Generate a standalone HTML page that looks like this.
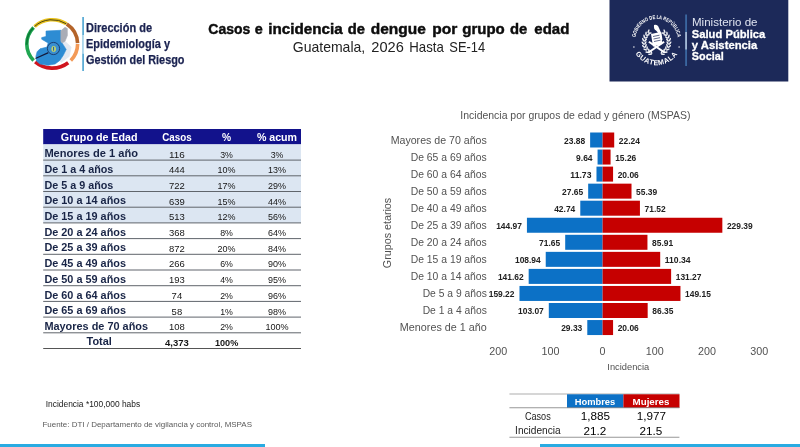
<!DOCTYPE html>
<html lang="es"><head><meta charset="utf-8"><title>Casos e incidencia de dengue por grupo de edad</title>
<style>
html,body{margin:0;padding:0;background:#fff;}
body{width:800px;height:447px;overflow:hidden;font-family:"Liberation Sans",sans-serif;}
svg{display:block;font-family:"Liberation Sans",sans-serif;}
</style></head><body>
<svg width="800" height="447" viewBox="0 0 800 447">
<rect width="800" height="447" fill="#fff"/>

<g id="logo-epi">
<path d="M34.56 26.49 A25.4 24.2 0 0 1 66.40 23.84" fill="none" stroke="#e9c21c" stroke-width="3.6" stroke-linecap="butt"/>
<path d="M34.56 26.49 A25.4 24.2 0 0 1 66.40 23.84" fill="none" stroke="#3a3414" stroke-width="0.9" stroke-linecap="butt"/>
<path d="M66.77 24.08 A25.4 24.2 0 0 1 77.58 43.06" fill="none" stroke="#b4642a" stroke-width="3.6" stroke-linecap="butt"/>
<path d="M77.60 43.90 A25.4 24.2 0 0 1 70.78 60.40" fill="none" stroke="#f39a57" stroke-width="3.6" stroke-linecap="butt"/>
<path d="M68.18 62.71 A25.4 24.2 0 0 1 35.20 61.88" fill="none" stroke="#d0141e" stroke-width="3.6" stroke-linecap="butt"/>
<path d="M33.62 60.40 A25.4 24.2 0 0 1 33.62 27.40" fill="none" stroke="#1fa651" stroke-width="3.6" stroke-linecap="butt"/>
<path d="M26.82 44.74 A25.4 24.2 0 0 1 33.03 28.02" fill="none" stroke="#0d7a36" stroke-width="1.6" stroke-linecap="butt"/>
<path d="M62.1 43.0 L65.0 41.3 L71.2 47.1 L69.3 56.4 L61.2 62.5 L59.8 60.5 L63.3 55.3 L66.2 49.4 Z" fill="#e3e9f1" stroke="#e3e9f1" stroke-width="0.6" stroke-linejoin="round" />
<path d="M46.0 31.0 L60.9 30.3 L60.9 41.3 L62.1 43.0 L66.2 49.4 L63.3 55.3 L59.8 60.5 L55.1 64.0 L48.1 65.3 L40.0 64.1 L36.5 61.1 L35.9 56.4 L37.1 51.8 L40.0 48.8 L47.0 47.1 L48.1 43.0 L41.7 39.2 L41.7 37.6 L46.0 36.4 Z" fill="#2d8cd3" stroke="#2d8cd3" stroke-width="0.6" stroke-linejoin="round" />
<path d="M60.9 30.8 L65.0 27.3 L67.3 28.5 L67.4 35.5 L65.0 41.3 L62.1 43.0 L60.9 41.3 Z" fill="#a9adb6" stroke="#a9adb6" stroke-width="0.6" stroke-linejoin="round" />
<path d="M47.9 52.9 L36.0 58.3" stroke="#14193a" stroke-width="1.2" stroke-linecap="round"/>
<circle cx="53.5" cy="48.5" r="6.1" fill="#3a8fd0" stroke="#1a3566" stroke-width="0.9"/>
<ellipse cx="53.7" cy="48.9" rx="2.3" ry="2.9" fill="#c2d46a"/>
<rect x="53.0" y="46.9" width="1.1" height="3.8" fill="#2d64a8"/>
</g>
<rect x="82.2" y="17" width="1.8" height="54" fill="#5eadd6"/>
<rect x="82.2" y="35" width="1.8" height="18.8" fill="#b9dcee"/>
<text x="86" y="32.3" font-size="12.2" font-weight="bold" fill="#1a2250" text-anchor="start" textLength="66" lengthAdjust="spacingAndGlyphs" stroke="#1a2250" stroke-width="0.25">Dirección de</text>
<text x="86" y="48.1" font-size="12.2" font-weight="bold" fill="#1a2250" text-anchor="start" textLength="84" lengthAdjust="spacingAndGlyphs" stroke="#1a2250" stroke-width="0.25">Epidemiología y</text>
<text x="86" y="63.8" font-size="12.2" font-weight="bold" fill="#1a2250" text-anchor="start" textLength="98.5" lengthAdjust="spacingAndGlyphs" stroke="#1a2250" stroke-width="0.25">Gestión del Riesgo</text>
<text y="34.2" font-size="15" font-weight="bold" fill="#0d0d0d" stroke="#0d0d0d" stroke-width="0.45"><tspan x="208.3" textLength="41.9" lengthAdjust="spacingAndGlyphs">Casos</tspan> <tspan x="254.8" textLength="8.0" lengthAdjust="spacingAndGlyphs">e</tspan> <tspan x="268.3" textLength="74.4" lengthAdjust="spacingAndGlyphs">incidencia</tspan> <tspan x="347.8" textLength="17.2" lengthAdjust="spacingAndGlyphs">de</tspan> <tspan x="370.8" textLength="55.0" lengthAdjust="spacingAndGlyphs">dengue</tspan> <tspan x="432.3" textLength="25.1" lengthAdjust="spacingAndGlyphs">por</tspan> <tspan x="462.3" textLength="42.5" lengthAdjust="spacingAndGlyphs">grupo</tspan> <tspan x="510" textLength="17.3" lengthAdjust="spacingAndGlyphs">de</tspan> <tspan x="534.3" textLength="35.0" lengthAdjust="spacingAndGlyphs">edad</tspan></text>
<text y="52" font-size="14.2" font-weight="normal" fill="#222" ><tspan x="292.8" textLength="72.4" lengthAdjust="spacingAndGlyphs">Guatemala,</tspan> <tspan x="371.3" textLength="32.5" lengthAdjust="spacingAndGlyphs">2026</tspan> <tspan x="409.3" textLength="34.5" lengthAdjust="spacingAndGlyphs">Hasta</tspan> <tspan x="449.3" textLength="35.9" lengthAdjust="spacingAndGlyphs">SE-14</tspan></text>
<rect x="609.5" y="0" width="178.8" height="81.5" fill="#1c2959"/>
<g id="logo-mspas">
<path id="arcTop" d="M635.5 43.0 A21.2 21.2 0 1 1 677.5 43.0" fill="none"/>
<path id="arcBot" d="M631.3 40.0 A25.2 25.2 0 0 0 681.7 40.0" fill="none"/>
<text font-size="5.4" font-weight="bold" fill="#fff" textLength="60.5" lengthAdjust="spacingAndGlyphs"><textPath href="#arcTop" startOffset="50%" text-anchor="middle" textLength="60.5" lengthAdjust="spacingAndGlyphs">GOBIERNO DE LA REPÚBLICA</textPath></text>
<text font-size="7.2" font-weight="bold" fill="#fff" letter-spacing="0.5"><textPath href="#arcBot" startOffset="50%" text-anchor="middle">GUATEMALA</textPath></text>
<circle cx="633.9" cy="47.0" r="0.7" fill="#fff"/><circle cx="679.1" cy="47.0" r="0.7" fill="#fff"/>
<ellipse cx="650.12" cy="54.21" rx="0.8" ry="2" transform="rotate(-277.0 650.12 54.21)" fill="#fff" opacity="0.93"/>
<ellipse cx="651.24" cy="52.09" rx="0.8" ry="2" transform="rotate(-207.0 651.24 52.09)" fill="#fff" opacity="0.93"/>
<ellipse cx="647.31" cy="52.23" rx="0.8" ry="2" transform="rotate(-262.5 647.31 52.23)" fill="#fff" opacity="0.93"/>
<ellipse cx="648.93" cy="50.46" rx="0.8" ry="2" transform="rotate(-192.5 648.93 50.46)" fill="#fff" opacity="0.93"/>
<ellipse cx="645.09" cy="49.61" rx="0.8" ry="2" transform="rotate(-248.0 645.09 49.61)" fill="#fff" opacity="0.93"/>
<ellipse cx="647.11" cy="48.30" rx="0.8" ry="2" transform="rotate(-178.0 647.11 48.30)" fill="#fff" opacity="0.93"/>
<ellipse cx="643.60" cy="46.52" rx="0.8" ry="2" transform="rotate(-233.5 643.60 46.52)" fill="#fff" opacity="0.93"/>
<ellipse cx="645.88" cy="45.75" rx="0.8" ry="2" transform="rotate(-163.5 645.88 45.75)" fill="#fff" opacity="0.93"/>
<ellipse cx="642.93" cy="43.15" rx="0.8" ry="2" transform="rotate(-219.0 642.93 43.15)" fill="#fff" opacity="0.93"/>
<ellipse cx="645.33" cy="42.98" rx="0.8" ry="2" transform="rotate(-149.0 645.33 42.98)" fill="#fff" opacity="0.93"/>
<ellipse cx="643.13" cy="39.72" rx="0.8" ry="2" transform="rotate(-204.5 643.13 39.72)" fill="#fff" opacity="0.93"/>
<ellipse cx="645.49" cy="40.16" rx="0.8" ry="2" transform="rotate(-134.5 645.49 40.16)" fill="#fff" opacity="0.93"/>
<ellipse cx="644.17" cy="36.45" rx="0.8" ry="2" transform="rotate(-190.0 644.17 36.45)" fill="#fff" opacity="0.93"/>
<ellipse cx="646.35" cy="37.47" rx="0.8" ry="2" transform="rotate(-120.0 646.35 37.47)" fill="#fff" opacity="0.93"/>
<ellipse cx="646.01" cy="33.55" rx="0.8" ry="2" transform="rotate(-175.5 646.01 33.55)" fill="#fff" opacity="0.93"/>
<ellipse cx="647.86" cy="35.08" rx="0.8" ry="2" transform="rotate(-105.5 647.86 35.08)" fill="#fff" opacity="0.93"/>
<ellipse cx="648.51" cy="31.20" rx="0.8" ry="2" transform="rotate(-161.0 648.51 31.20)" fill="#fff" opacity="0.93"/>
<ellipse cx="649.92" cy="33.14" rx="0.8" ry="2" transform="rotate(-91.0 649.92 33.14)" fill="#fff" opacity="0.93"/>
<ellipse cx="662.88" cy="54.21" rx="0.8" ry="2" transform="rotate(-83.0 662.88 54.21)" fill="#fff" opacity="0.93"/>
<ellipse cx="661.76" cy="52.09" rx="0.8" ry="2" transform="rotate(-153.0 661.76 52.09)" fill="#fff" opacity="0.93"/>
<ellipse cx="665.69" cy="52.23" rx="0.8" ry="2" transform="rotate(-97.5 665.69 52.23)" fill="#fff" opacity="0.93"/>
<ellipse cx="664.07" cy="50.46" rx="0.8" ry="2" transform="rotate(-167.5 664.07 50.46)" fill="#fff" opacity="0.93"/>
<ellipse cx="667.91" cy="49.61" rx="0.8" ry="2" transform="rotate(-112.0 667.91 49.61)" fill="#fff" opacity="0.93"/>
<ellipse cx="665.89" cy="48.30" rx="0.8" ry="2" transform="rotate(-182.0 665.89 48.30)" fill="#fff" opacity="0.93"/>
<ellipse cx="669.40" cy="46.52" rx="0.8" ry="2" transform="rotate(-126.5 669.40 46.52)" fill="#fff" opacity="0.93"/>
<ellipse cx="667.12" cy="45.75" rx="0.8" ry="2" transform="rotate(-196.5 667.12 45.75)" fill="#fff" opacity="0.93"/>
<ellipse cx="670.07" cy="43.15" rx="0.8" ry="2" transform="rotate(-141.0 670.07 43.15)" fill="#fff" opacity="0.93"/>
<ellipse cx="667.67" cy="42.98" rx="0.8" ry="2" transform="rotate(-211.0 667.67 42.98)" fill="#fff" opacity="0.93"/>
<ellipse cx="669.87" cy="39.72" rx="0.8" ry="2" transform="rotate(-155.5 669.87 39.72)" fill="#fff" opacity="0.93"/>
<ellipse cx="667.51" cy="40.16" rx="0.8" ry="2" transform="rotate(-225.5 667.51 40.16)" fill="#fff" opacity="0.93"/>
<ellipse cx="668.83" cy="36.45" rx="0.8" ry="2" transform="rotate(-170.0 668.83 36.45)" fill="#fff" opacity="0.93"/>
<ellipse cx="666.65" cy="37.47" rx="0.8" ry="2" transform="rotate(-240.0 666.65 37.47)" fill="#fff" opacity="0.93"/>
<ellipse cx="666.99" cy="33.55" rx="0.8" ry="2" transform="rotate(-184.5 666.99 33.55)" fill="#fff" opacity="0.93"/>
<ellipse cx="665.14" cy="35.08" rx="0.8" ry="2" transform="rotate(-254.5 665.14 35.08)" fill="#fff" opacity="0.93"/>
<ellipse cx="664.49" cy="31.20" rx="0.8" ry="2" transform="rotate(-199.0 664.49 31.20)" fill="#fff" opacity="0.93"/>
<ellipse cx="663.08" cy="33.14" rx="0.8" ry="2" transform="rotate(-269.0 663.08 33.14)" fill="#fff" opacity="0.93"/>
<g fill="#fff"><path d="M651.0 34.0 L660.5 32.0 L662.5 44.0 L653.0 46.5 Z"/><path d="M654.0 25.0 q3.5 -1 5 3 q3 5 3.5 12 l-2 0.5 q-1 -7 -4.5 -10 q-2.5 -1 -2 -5.5 z"/><path d="M647.5 52.0 l16 -11 l1.2 1.6 l-16 11 z"/><path d="M665.5 52.0 l-16 -11 l-1.2 1.6 l16 11 z"/></g>
<path d="M653.0 36.5 l6.5 -1.3 M653.5 39.0 l6.5 -1.3 M654.0 41.5 l6.5 -1.3" stroke="#1c2959" stroke-width="0.7" fill="none"/>
</g>
<rect x="685.5" y="14.5" width="1.1" height="51.5" fill="#4f8fd0"/>
<rect x="685.5" y="32" width="1.1" height="17.5" fill="#e8eef8"/>
<text x="692" y="26.3" font-size="10" font-weight="normal" fill="#dfe4f0" text-anchor="start" textLength="65.5" lengthAdjust="spacingAndGlyphs">Ministerio de</text>
<text x="691.8" y="37.7" font-size="11.6" font-weight="bold" fill="#fff" text-anchor="start" textLength="73.5" lengthAdjust="spacingAndGlyphs" stroke="#fff" stroke-width="0.3">Salud Pública</text>
<text x="691.8" y="48.7" font-size="11.6" font-weight="bold" fill="#fff" text-anchor="start" textLength="65.5" lengthAdjust="spacingAndGlyphs" stroke="#fff" stroke-width="0.3">y Asistencia</text>
<text x="691.8" y="60.3" font-size="11.6" font-weight="bold" fill="#fff" text-anchor="start" textLength="32" lengthAdjust="spacingAndGlyphs" stroke="#fff" stroke-width="0.3">Social</text>
<rect x="43.2" y="129" width="257.8" height="15.4" fill="#12128c"/>
<rect x="43.2" y="144.4" width="257.8" height="78.50" fill="#dce6f2"/>
<text x="99.2" y="140.9" font-size="11.25" font-weight="bold" fill="#fff" text-anchor="middle" textLength="76.70" lengthAdjust="spacingAndGlyphs">Grupo de Edad</text>
<text x="176.9" y="140.9" font-size="11.25" font-weight="bold" fill="#fff" text-anchor="middle" textLength="29.48" lengthAdjust="spacingAndGlyphs">Casos</text>
<text x="226.6" y="140.9" font-size="11.25" font-weight="bold" fill="#fff" text-anchor="middle" textLength="9.11" lengthAdjust="spacingAndGlyphs">%</text>
<text x="277" y="140.9" font-size="11.25" font-weight="bold" fill="#fff" text-anchor="middle" textLength="40.22" lengthAdjust="spacingAndGlyphs">% acum</text>
<text x="44.4" y="157.20" font-size="11.25" font-weight="bold" fill="#182446" text-anchor="start" textLength="93.64" lengthAdjust="spacingAndGlyphs">Menores de 1 año</text>
<text x="176.9" y="157.50" font-size="9.36" font-weight="normal" fill="#151515" text-anchor="middle" textLength="15.81" lengthAdjust="spacingAndGlyphs">116</text>
<text x="226.6" y="157.50" font-size="9.36" font-weight="normal" fill="#151515" text-anchor="middle" textLength="12.71" lengthAdjust="spacingAndGlyphs">3%</text>
<text x="277" y="157.50" font-size="9.36" font-weight="normal" fill="#151515" text-anchor="middle" textLength="12.71" lengthAdjust="spacingAndGlyphs">3%</text>
<rect x="43.2" y="159.60" width="257.8" height="1" fill="#60656c"/>
<text x="44.4" y="172.90" font-size="11.25" font-weight="bold" fill="#182446" text-anchor="start" textLength="68.91" lengthAdjust="spacingAndGlyphs">De 1 a 4 años</text>
<text x="176.9" y="173.20" font-size="9.36" font-weight="normal" fill="#151515" text-anchor="middle" textLength="15.81" lengthAdjust="spacingAndGlyphs">444</text>
<text x="226.6" y="173.20" font-size="9.36" font-weight="normal" fill="#151515" text-anchor="middle" textLength="17.98" lengthAdjust="spacingAndGlyphs">10%</text>
<text x="277" y="173.20" font-size="9.36" font-weight="normal" fill="#151515" text-anchor="middle" textLength="17.98" lengthAdjust="spacingAndGlyphs">13%</text>
<rect x="43.2" y="175.30" width="257.8" height="1" fill="#60656c"/>
<text x="44.4" y="188.60" font-size="11.25" font-weight="bold" fill="#182446" text-anchor="start" textLength="68.91" lengthAdjust="spacingAndGlyphs">De 5 a 9 años</text>
<text x="176.9" y="188.90" font-size="9.36" font-weight="normal" fill="#151515" text-anchor="middle" textLength="15.81" lengthAdjust="spacingAndGlyphs">722</text>
<text x="226.6" y="188.90" font-size="9.36" font-weight="normal" fill="#151515" text-anchor="middle" textLength="17.98" lengthAdjust="spacingAndGlyphs">17%</text>
<text x="277" y="188.90" font-size="9.36" font-weight="normal" fill="#151515" text-anchor="middle" textLength="17.98" lengthAdjust="spacingAndGlyphs">29%</text>
<rect x="43.2" y="191.00" width="257.8" height="1" fill="#60656c"/>
<text x="44.4" y="204.30" font-size="11.25" font-weight="bold" fill="#182446" text-anchor="start" textLength="81.58" lengthAdjust="spacingAndGlyphs">De 10 a 14 años</text>
<text x="176.9" y="204.60" font-size="9.36" font-weight="normal" fill="#151515" text-anchor="middle" textLength="15.81" lengthAdjust="spacingAndGlyphs">639</text>
<text x="226.6" y="204.60" font-size="9.36" font-weight="normal" fill="#151515" text-anchor="middle" textLength="17.98" lengthAdjust="spacingAndGlyphs">15%</text>
<text x="277" y="204.60" font-size="9.36" font-weight="normal" fill="#151515" text-anchor="middle" textLength="17.98" lengthAdjust="spacingAndGlyphs">44%</text>
<rect x="43.2" y="206.70" width="257.8" height="1" fill="#60656c"/>
<text x="44.4" y="220.00" font-size="11.25" font-weight="bold" fill="#182446" text-anchor="start" textLength="81.58" lengthAdjust="spacingAndGlyphs">De 15 a 19 años</text>
<text x="176.9" y="220.30" font-size="9.36" font-weight="normal" fill="#151515" text-anchor="middle" textLength="15.81" lengthAdjust="spacingAndGlyphs">513</text>
<text x="226.6" y="220.30" font-size="9.36" font-weight="normal" fill="#151515" text-anchor="middle" textLength="17.98" lengthAdjust="spacingAndGlyphs">12%</text>
<text x="277" y="220.30" font-size="9.36" font-weight="normal" fill="#151515" text-anchor="middle" textLength="17.98" lengthAdjust="spacingAndGlyphs">56%</text>
<rect x="43.2" y="222.40" width="257.8" height="1" fill="#60656c"/>
<text x="44.4" y="235.70" font-size="11.25" font-weight="bold" fill="#182446" text-anchor="start" textLength="81.58" lengthAdjust="spacingAndGlyphs">De 20 a 24 años</text>
<text x="176.9" y="236.00" font-size="9.36" font-weight="normal" fill="#151515" text-anchor="middle" textLength="15.81" lengthAdjust="spacingAndGlyphs">368</text>
<text x="226.6" y="236.00" font-size="9.36" font-weight="normal" fill="#151515" text-anchor="middle" textLength="12.71" lengthAdjust="spacingAndGlyphs">8%</text>
<text x="277" y="236.00" font-size="9.36" font-weight="normal" fill="#151515" text-anchor="middle" textLength="17.98" lengthAdjust="spacingAndGlyphs">64%</text>
<rect x="43.2" y="238.10" width="257.8" height="1" fill="#60656c"/>
<text x="44.4" y="251.40" font-size="11.25" font-weight="bold" fill="#182446" text-anchor="start" textLength="81.58" lengthAdjust="spacingAndGlyphs">De 25 a 39 años</text>
<text x="176.9" y="251.70" font-size="9.36" font-weight="normal" fill="#151515" text-anchor="middle" textLength="15.81" lengthAdjust="spacingAndGlyphs">872</text>
<text x="226.6" y="251.70" font-size="9.36" font-weight="normal" fill="#151515" text-anchor="middle" textLength="17.98" lengthAdjust="spacingAndGlyphs">20%</text>
<text x="277" y="251.70" font-size="9.36" font-weight="normal" fill="#151515" text-anchor="middle" textLength="17.98" lengthAdjust="spacingAndGlyphs">84%</text>
<rect x="43.2" y="253.80" width="257.8" height="1" fill="#60656c"/>
<text x="44.4" y="267.10" font-size="11.25" font-weight="bold" fill="#182446" text-anchor="start" textLength="81.58" lengthAdjust="spacingAndGlyphs">De 45 a 49 años</text>
<text x="176.9" y="267.40" font-size="9.36" font-weight="normal" fill="#151515" text-anchor="middle" textLength="15.81" lengthAdjust="spacingAndGlyphs">266</text>
<text x="226.6" y="267.40" font-size="9.36" font-weight="normal" fill="#151515" text-anchor="middle" textLength="12.71" lengthAdjust="spacingAndGlyphs">6%</text>
<text x="277" y="267.40" font-size="9.36" font-weight="normal" fill="#151515" text-anchor="middle" textLength="17.98" lengthAdjust="spacingAndGlyphs">90%</text>
<rect x="43.2" y="269.50" width="257.8" height="1" fill="#60656c"/>
<text x="44.4" y="282.80" font-size="11.25" font-weight="bold" fill="#182446" text-anchor="start" textLength="81.58" lengthAdjust="spacingAndGlyphs">De 50 a 59 años</text>
<text x="176.9" y="283.10" font-size="9.36" font-weight="normal" fill="#151515" text-anchor="middle" textLength="15.81" lengthAdjust="spacingAndGlyphs">193</text>
<text x="226.6" y="283.10" font-size="9.36" font-weight="normal" fill="#151515" text-anchor="middle" textLength="12.71" lengthAdjust="spacingAndGlyphs">4%</text>
<text x="277" y="283.10" font-size="9.36" font-weight="normal" fill="#151515" text-anchor="middle" textLength="17.98" lengthAdjust="spacingAndGlyphs">95%</text>
<rect x="43.2" y="285.20" width="257.8" height="1" fill="#60656c"/>
<text x="44.4" y="298.50" font-size="11.25" font-weight="bold" fill="#182446" text-anchor="start" textLength="81.58" lengthAdjust="spacingAndGlyphs">De 60 a 64 años</text>
<text x="176.9" y="298.80" font-size="9.36" font-weight="normal" fill="#151515" text-anchor="middle" textLength="10.54" lengthAdjust="spacingAndGlyphs">74</text>
<text x="226.6" y="298.80" font-size="9.36" font-weight="normal" fill="#151515" text-anchor="middle" textLength="12.71" lengthAdjust="spacingAndGlyphs">2%</text>
<text x="277" y="298.80" font-size="9.36" font-weight="normal" fill="#151515" text-anchor="middle" textLength="17.98" lengthAdjust="spacingAndGlyphs">96%</text>
<rect x="43.2" y="300.90" width="257.8" height="1" fill="#60656c"/>
<text x="44.4" y="314.20" font-size="11.25" font-weight="bold" fill="#182446" text-anchor="start" textLength="81.58" lengthAdjust="spacingAndGlyphs">De 65 a 69 años</text>
<text x="176.9" y="314.50" font-size="9.36" font-weight="normal" fill="#151515" text-anchor="middle" textLength="10.54" lengthAdjust="spacingAndGlyphs">58</text>
<text x="226.6" y="314.50" font-size="9.36" font-weight="normal" fill="#151515" text-anchor="middle" textLength="12.71" lengthAdjust="spacingAndGlyphs">1%</text>
<text x="277" y="314.50" font-size="9.36" font-weight="normal" fill="#151515" text-anchor="middle" textLength="17.98" lengthAdjust="spacingAndGlyphs">98%</text>
<rect x="43.2" y="316.60" width="257.8" height="1" fill="#60656c"/>
<text x="44.4" y="329.90" font-size="11.25" font-weight="bold" fill="#182446" text-anchor="start" textLength="103.70" lengthAdjust="spacingAndGlyphs">Mayores de 70 años</text>
<text x="176.9" y="330.20" font-size="9.36" font-weight="normal" fill="#151515" text-anchor="middle" textLength="15.81" lengthAdjust="spacingAndGlyphs">108</text>
<text x="226.6" y="330.20" font-size="9.36" font-weight="normal" fill="#151515" text-anchor="middle" textLength="12.71" lengthAdjust="spacingAndGlyphs">2%</text>
<text x="277" y="330.20" font-size="9.36" font-weight="normal" fill="#151515" text-anchor="middle" textLength="23.25" lengthAdjust="spacingAndGlyphs">100%</text>
<rect x="43.2" y="332.30" width="257.8" height="1" fill="#60656c"/>
<text x="99.2" y="344.60" font-size="11.25" font-weight="bold" fill="#182446" text-anchor="middle" textLength="25.28" lengthAdjust="spacingAndGlyphs">Total</text>
<text x="176.9" y="346.00" font-size="9.36" font-weight="bold" fill="#151515" text-anchor="middle" textLength="23.77" lengthAdjust="spacingAndGlyphs">4,373</text>
<text x="226.6" y="346.00" font-size="9.36" font-weight="bold" fill="#151515" text-anchor="middle" textLength="23.40" lengthAdjust="spacingAndGlyphs">100%</text>
<rect x="43.2" y="348.00" width="257.8" height="1" fill="#555"/>
<text x="575.4" y="118.5" font-size="10.55" font-weight="normal" fill="#525252" text-anchor="middle" textLength="230.06" lengthAdjust="spacingAndGlyphs">Incidencia por grupos de edad y género (MSPAS)</text>
<text x="486.8" y="143.70" font-size="10.62" font-weight="normal" fill="#525252" text-anchor="end" textLength="96.12" lengthAdjust="spacingAndGlyphs">Mayores de 70 años</text>
<rect x="590.13" y="132.50" width="12.47" height="15" fill="#0c71c6"/>
<rect x="602.60" y="132.50" width="11.61" height="15" fill="#c60000"/>
<text x="585.13" y="143.70" font-size="8.28" font-weight="bold" fill="#222" text-anchor="end" textLength="21.11" lengthAdjust="spacingAndGlyphs">23.88</text>
<text x="618.81" y="143.70" font-size="8.28" font-weight="bold" fill="#222" text-anchor="start" textLength="21.11" lengthAdjust="spacingAndGlyphs">22.24</text>
<text x="486.8" y="160.75" font-size="10.62" font-weight="normal" fill="#525252" text-anchor="end" textLength="76.07" lengthAdjust="spacingAndGlyphs">De 65 a 69 años</text>
<rect x="597.57" y="149.55" width="5.03" height="15" fill="#0c71c6"/>
<rect x="602.60" y="149.55" width="7.97" height="15" fill="#c60000"/>
<text x="592.57" y="160.75" font-size="8.28" font-weight="bold" fill="#222" text-anchor="end" textLength="16.45" lengthAdjust="spacingAndGlyphs">9.64</text>
<text x="615.17" y="160.75" font-size="8.28" font-weight="bold" fill="#222" text-anchor="start" textLength="21.11" lengthAdjust="spacingAndGlyphs">15.26</text>
<text x="486.8" y="177.80" font-size="10.62" font-weight="normal" fill="#525252" text-anchor="end" textLength="76.07" lengthAdjust="spacingAndGlyphs">De 60 a 64 años</text>
<rect x="596.48" y="166.60" width="6.12" height="15" fill="#0c71c6"/>
<rect x="602.60" y="166.60" width="10.47" height="15" fill="#c60000"/>
<text x="591.48" y="177.80" font-size="8.28" font-weight="bold" fill="#222" text-anchor="end" textLength="21.11" lengthAdjust="spacingAndGlyphs">11.73</text>
<text x="617.67" y="177.80" font-size="8.28" font-weight="bold" fill="#222" text-anchor="start" textLength="21.11" lengthAdjust="spacingAndGlyphs">20.06</text>
<text x="486.8" y="194.85" font-size="10.62" font-weight="normal" fill="#525252" text-anchor="end" textLength="76.07" lengthAdjust="spacingAndGlyphs">De 50 a 59 años</text>
<rect x="588.17" y="183.65" width="14.43" height="15" fill="#0c71c6"/>
<rect x="602.60" y="183.65" width="28.91" height="15" fill="#c60000"/>
<text x="583.17" y="194.85" font-size="8.28" font-weight="bold" fill="#222" text-anchor="end" textLength="21.11" lengthAdjust="spacingAndGlyphs">27.65</text>
<text x="636.11" y="194.85" font-size="8.28" font-weight="bold" fill="#222" text-anchor="start" textLength="21.11" lengthAdjust="spacingAndGlyphs">55.39</text>
<text x="486.8" y="211.90" font-size="10.62" font-weight="normal" fill="#525252" text-anchor="end" textLength="76.07" lengthAdjust="spacingAndGlyphs">De 40 a 49 años</text>
<rect x="580.29" y="200.70" width="22.31" height="15" fill="#0c71c6"/>
<rect x="602.60" y="200.70" width="37.33" height="15" fill="#c60000"/>
<text x="575.29" y="211.90" font-size="8.28" font-weight="bold" fill="#222" text-anchor="end" textLength="21.11" lengthAdjust="spacingAndGlyphs">42.74</text>
<text x="644.53" y="211.90" font-size="8.28" font-weight="bold" fill="#222" text-anchor="start" textLength="21.11" lengthAdjust="spacingAndGlyphs">71.52</text>
<text x="486.8" y="228.95" font-size="10.62" font-weight="normal" fill="#525252" text-anchor="end" textLength="76.07" lengthAdjust="spacingAndGlyphs">De 25 a 39 años</text>
<rect x="526.93" y="217.75" width="75.67" height="15" fill="#0c71c6"/>
<rect x="602.60" y="217.75" width="119.74" height="15" fill="#c60000"/>
<text x="521.93" y="228.95" font-size="8.28" font-weight="bold" fill="#222" text-anchor="end" textLength="25.77" lengthAdjust="spacingAndGlyphs">144.97</text>
<text x="726.94" y="228.95" font-size="8.28" font-weight="bold" fill="#222" text-anchor="start" textLength="25.77" lengthAdjust="spacingAndGlyphs">229.39</text>
<text x="486.8" y="246.00" font-size="10.62" font-weight="normal" fill="#525252" text-anchor="end" textLength="76.07" lengthAdjust="spacingAndGlyphs">De 20 a 24 años</text>
<rect x="565.20" y="234.80" width="37.40" height="15" fill="#0c71c6"/>
<rect x="602.60" y="234.80" width="44.85" height="15" fill="#c60000"/>
<text x="560.20" y="246.00" font-size="8.28" font-weight="bold" fill="#222" text-anchor="end" textLength="21.11" lengthAdjust="spacingAndGlyphs">71.65</text>
<text x="652.05" y="246.00" font-size="8.28" font-weight="bold" fill="#222" text-anchor="start" textLength="21.11" lengthAdjust="spacingAndGlyphs">85.91</text>
<text x="486.8" y="263.05" font-size="10.62" font-weight="normal" fill="#525252" text-anchor="end" textLength="76.07" lengthAdjust="spacingAndGlyphs">De 15 a 19 años</text>
<rect x="545.73" y="251.85" width="56.87" height="15" fill="#0c71c6"/>
<rect x="602.60" y="251.85" width="57.60" height="15" fill="#c60000"/>
<text x="540.73" y="263.05" font-size="8.28" font-weight="bold" fill="#222" text-anchor="end" textLength="25.77" lengthAdjust="spacingAndGlyphs">108.94</text>
<text x="664.80" y="263.05" font-size="8.28" font-weight="bold" fill="#222" text-anchor="start" textLength="25.77" lengthAdjust="spacingAndGlyphs">110.34</text>
<text x="486.8" y="280.10" font-size="10.62" font-weight="normal" fill="#525252" text-anchor="end" textLength="76.07" lengthAdjust="spacingAndGlyphs">De 10 a 14 años</text>
<rect x="528.67" y="268.90" width="73.93" height="15" fill="#0c71c6"/>
<rect x="602.60" y="268.90" width="68.52" height="15" fill="#c60000"/>
<text x="523.67" y="280.10" font-size="8.28" font-weight="bold" fill="#222" text-anchor="end" textLength="25.77" lengthAdjust="spacingAndGlyphs">141.62</text>
<text x="675.72" y="280.10" font-size="8.28" font-weight="bold" fill="#222" text-anchor="start" textLength="25.77" lengthAdjust="spacingAndGlyphs">131.27</text>
<text x="486.8" y="297.15" font-size="10.62" font-weight="normal" fill="#525252" text-anchor="end" textLength="64.11" lengthAdjust="spacingAndGlyphs">De 5 a 9 años</text>
<rect x="519.49" y="285.95" width="83.11" height="15" fill="#0c71c6"/>
<rect x="602.60" y="285.95" width="77.86" height="15" fill="#c60000"/>
<text x="514.49" y="297.15" font-size="8.28" font-weight="bold" fill="#222" text-anchor="end" textLength="25.77" lengthAdjust="spacingAndGlyphs">159.22</text>
<text x="685.06" y="297.15" font-size="8.28" font-weight="bold" fill="#222" text-anchor="start" textLength="25.77" lengthAdjust="spacingAndGlyphs">149.15</text>
<text x="486.8" y="314.20" font-size="10.62" font-weight="normal" fill="#525252" text-anchor="end" textLength="64.11" lengthAdjust="spacingAndGlyphs">De 1 a 4 años</text>
<rect x="548.80" y="303.00" width="53.80" height="15" fill="#0c71c6"/>
<rect x="602.60" y="303.00" width="45.07" height="15" fill="#c60000"/>
<text x="543.80" y="314.20" font-size="8.28" font-weight="bold" fill="#222" text-anchor="end" textLength="25.77" lengthAdjust="spacingAndGlyphs">103.07</text>
<text x="652.27" y="314.20" font-size="8.28" font-weight="bold" fill="#222" text-anchor="start" textLength="21.11" lengthAdjust="spacingAndGlyphs">86.35</text>
<text x="486.8" y="331.25" font-size="10.62" font-weight="normal" fill="#525252" text-anchor="end" textLength="86.96" lengthAdjust="spacingAndGlyphs">Menores de 1 año</text>
<rect x="587.29" y="320.05" width="15.31" height="15" fill="#0c71c6"/>
<rect x="602.60" y="320.05" width="10.47" height="15" fill="#c60000"/>
<text x="582.29" y="331.25" font-size="8.28" font-weight="bold" fill="#222" text-anchor="end" textLength="21.11" lengthAdjust="spacingAndGlyphs">29.33</text>
<text x="617.67" y="331.25" font-size="8.28" font-weight="bold" fill="#222" text-anchor="start" textLength="21.11" lengthAdjust="spacingAndGlyphs">20.06</text>
<text x="498.2" y="355" font-size="10.62" font-weight="normal" fill="#525252" text-anchor="middle" textLength="17.94" lengthAdjust="spacingAndGlyphs">200</text>
<text x="550.4" y="355" font-size="10.62" font-weight="normal" fill="#525252" text-anchor="middle" textLength="17.94" lengthAdjust="spacingAndGlyphs">100</text>
<text x="602.6" y="355" font-size="10.62" font-weight="normal" fill="#525252" text-anchor="middle" textLength="5.98" lengthAdjust="spacingAndGlyphs">0</text>
<text x="654.8" y="355" font-size="10.62" font-weight="normal" fill="#525252" text-anchor="middle" textLength="17.94" lengthAdjust="spacingAndGlyphs">100</text>
<text x="707" y="355" font-size="10.62" font-weight="normal" fill="#525252" text-anchor="middle" textLength="17.94" lengthAdjust="spacingAndGlyphs">200</text>
<text x="759.2" y="355" font-size="10.62" font-weight="normal" fill="#525252" text-anchor="middle" textLength="17.94" lengthAdjust="spacingAndGlyphs">300</text>
<text x="628.3" y="370.2" font-size="9.18" font-weight="normal" fill="#525252" text-anchor="middle" textLength="41.92" lengthAdjust="spacingAndGlyphs">Incidencia</text>
<g transform="translate(390.5,233) rotate(-90)">
<text x="0" y="0" font-size="10.62" font-weight="normal" fill="#525252" text-anchor="middle" textLength="70.39" lengthAdjust="spacingAndGlyphs">Grupos etarios</text>
</g>
<rect x="509.4" y="393.6" width="170" height="0.8" fill="#9a9a9a"/>
<rect x="567" y="394.3" width="56.4" height="13.5" fill="#0c71c6"/>
<rect x="623.4" y="394.3" width="56.1" height="13.5" fill="#c60000"/>
<rect x="509.4" y="407.4" width="170" height="0.8" fill="#7f7f7f"/>
<rect x="509.4" y="436.8" width="170" height="0.8" fill="#7f7f7f"/>
<text x="595" y="405.4" font-size="9.72" font-weight="bold" fill="#fff" text-anchor="middle" textLength="40.66" lengthAdjust="spacingAndGlyphs">Hombres</text>
<text x="651" y="405.4" font-size="9.72" font-weight="bold" fill="#fff" text-anchor="middle" textLength="36.89" lengthAdjust="spacingAndGlyphs">Mujeres</text>
<text x="537.8" y="420.1" font-size="10.32" font-weight="normal" fill="#1c1c1c" text-anchor="middle" textLength="25.77" lengthAdjust="spacingAndGlyphs">Casos</text>
<text x="537.9" y="434.4" font-size="10.32" font-weight="normal" fill="#1c1c1c" text-anchor="middle" textLength="45.62" lengthAdjust="spacingAndGlyphs">Incidencia</text>
<text x="595.3" y="420.1" font-size="11.7" font-weight="normal" fill="#000" text-anchor="middle">1,885</text>
<text x="651.3" y="420.1" font-size="11.7" font-weight="normal" fill="#000" text-anchor="middle">1,977</text>
<text x="594.8" y="435" font-size="11.7" font-weight="normal" fill="#000" text-anchor="middle">21.2</text>
<text x="650.8" y="435" font-size="11.7" font-weight="normal" fill="#000" text-anchor="middle">21.5</text>
<text x="45.7" y="407" font-size="8.28" font-weight="normal" fill="#1a1a1a" text-anchor="start" textLength="94.45" lengthAdjust="spacingAndGlyphs">Incidencia *100,000 habs</text>
<text x="42.4" y="427" font-size="7.4" font-weight="normal" fill="#595959" text-anchor="start" textLength="209.6" lengthAdjust="spacingAndGlyphs">Fuente: DTI / Departamento de vigilancia y control, MSPAS</text>
<rect x="0" y="444" width="265" height="3" fill="#29abe2"/>
<rect x="540" y="444" width="260" height="3" fill="#29abe2"/>
</svg></body></html>
